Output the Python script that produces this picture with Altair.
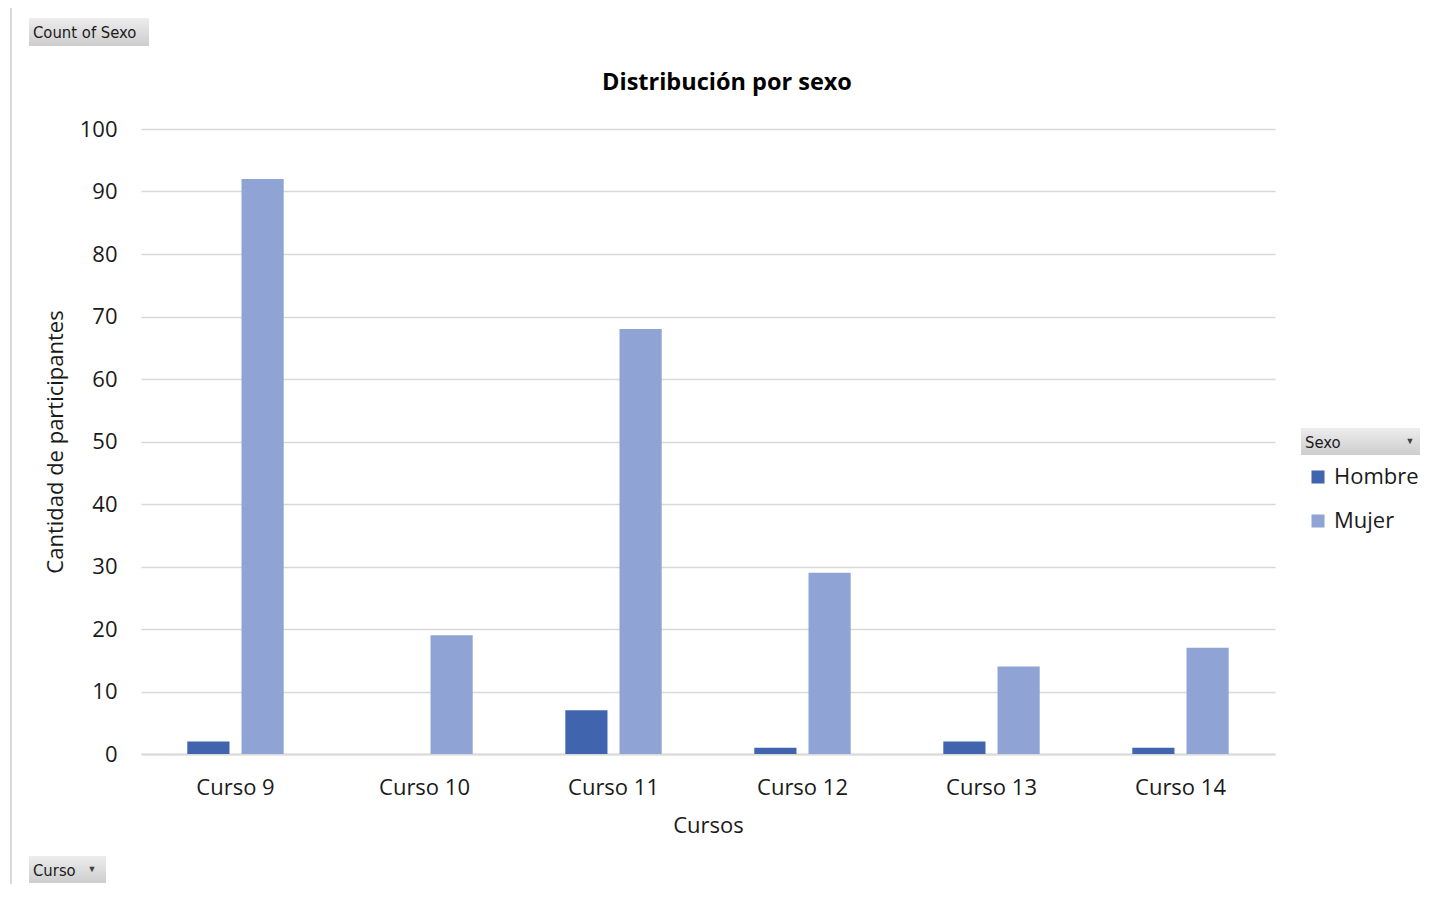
import altair as alt
import pandas as pd

cursos = ["Curso 9", "Curso 10", "Curso 11", "Curso 12", "Curso 13", "Curso 14"]
hombre = [2, 0, 7, 1, 2, 1]
mujer = [92, 19, 68, 29, 14, 17]
sexos = ["Hombre", "Mujer"]
colores = ["#4064ad", "#8fa4d5"]

rows = []
for c, h, m in zip(cursos, hombre, mujer):
    rows.append({"Curso": c, "Sexo": "Hombre", "Cantidad": h})
    rows.append({"Curso": c, "Sexo": "Mujer", "Cantidad": m})
df = pd.DataFrame(rows)

FONT = "Open Sans"
W, H = 1134, 625
OX, OY = 141, 129  # plot origin in page pixels

bars = alt.Chart(df).mark_bar(clip=False).encode(
    x=alt.X("Curso:N", sort=cursos,
            scale=alt.Scale(paddingInner=0.49, paddingOuter=0.245),
            axis=alt.Axis(title="Cursos", labelAngle=0, labelFontSize=22, titleFontSize=22,
                          titleFontWeight="normal", labelPadding=23, titlePadding=17,
                          ticks=False, domainColor="#d9d9d9", domainWidth=2, grid=False,
                          labelColor="#1a1a1a", titleColor="#1a1a1a", labelFont=FONT, titleFont=FONT)),
    xOffset=alt.XOffset("Sexo:N", sort=sexos, scale=alt.Scale(paddingInner=0.222)),
    y=alt.Y("Cantidad:Q", scale=alt.Scale(domain=[0, 100], nice=False),
            axis=alt.Axis(title="Cantidad de participantes", values=list(range(0, 101, 10)),
                          labelFontSize=22, titleFontSize=22, titleFontWeight="normal",
                          labelPadding=24, titlePadding=12, ticks=False, domain=False,
                          gridColor="#d9d9d9", gridWidth=1.5,
                          labelColor="#1a1a1a", titleColor="#1a1a1a", labelFont=FONT, titleFont=FONT)),
    color=alt.Color("Sexo:N", sort=sexos, scale=alt.Scale(domain=sexos, range=colores),
                    legend=alt.Legend(title=None, orient="none", legendX=1166, legendY=337,
                                      symbolType="square", symbolSize=170, symbolStrokeWidth=0,
                                      labelFontSize=22, labelFont=FONT, labelColor="#1a1a1a",
                                      rowPadding=22, labelOffset=5)),
)

# Chart frame
frame = alt.Chart(pd.DataFrame({"a": [0]})).mark_rect(
    fill=None, stroke="#d9d9d9", strokeWidth=2, clip=False
).encode(x=alt.value(11 - OX), x2=alt.value(1500), y=alt.value(5 - OY), y2=alt.value(1000))

grad = alt.Gradient(gradient="linear", x1=0, x2=0, y1=0, y2=1,
                    stops=[alt.GradientStop(color="#ededed", offset=0),
                           alt.GradientStop(color="#cdcdcd", offset=1)])

btn_df = pd.DataFrame({
    "label": ["Count of Sexo", "Curso", "Sexo"],
    "x": [29, 29, 1301],
    "x2": [149, 106, 1428],
    "y": [18, 856, 428],
    "y2": [46, 883, 455],
})
buttons = []
for _, r in btn_df.iterrows():
    d = pd.DataFrame([r])
    buttons.append(alt.Chart(d).mark_rect(color=grad, clip=False).encode(
        x=alt.value(r["x"] - OX), x2=alt.value(r["x2"] - OX),
        y=alt.value(r["y"] - OY), y2=alt.value(r["y2"] - OY)))
    buttons.append(alt.Chart(d).mark_text(align="left", baseline="middle", font="DejaVu Sans Condensed",
                                          fontSize=16.5, color="#1a1a1a", clip=False).encode(
        x=alt.value(r["x"] + 4 - OX), y=alt.value((r["y"] + r["y2"]) / 2 + 1 - OY), text="label:N"))

tris = [
    alt.Chart(pd.DataFrame({"t": ["▼"]})).mark_text(fontSize=9, color="#404040", clip=False).encode(
        x=alt.value(92 - OX), y=alt.value(869 - OY), text="t:N"),
    alt.Chart(pd.DataFrame({"t": ["▼"]})).mark_text(fontSize=9, color="#404040", clip=False).encode(
        x=alt.value(1410 - OX), y=alt.value(441 - OY), text="t:N"),
]

title = alt.Chart(pd.DataFrame({"t": ["Distribución por sexo"]})).mark_text(
    font=FONT, fontSize=23.5, fontWeight="bold", color="#000000", baseline="middle", clip=False
).encode(x=alt.value(727 - OX), y=alt.value(83 - OY), text="t:N")

chart = alt.layer(frame, bars, title, *buttons, *tris).properties(
    width=W, height=H,
    autosize=alt.AutoSizeParams(type="none"),
    padding={"left": 133, "top": 121, "right": 145, "bottom": 130},
).configure_view(stroke=None, strokeWidth=0)

chart.save("out.html", embed_options={"renderer": "svg", "actions": False})
